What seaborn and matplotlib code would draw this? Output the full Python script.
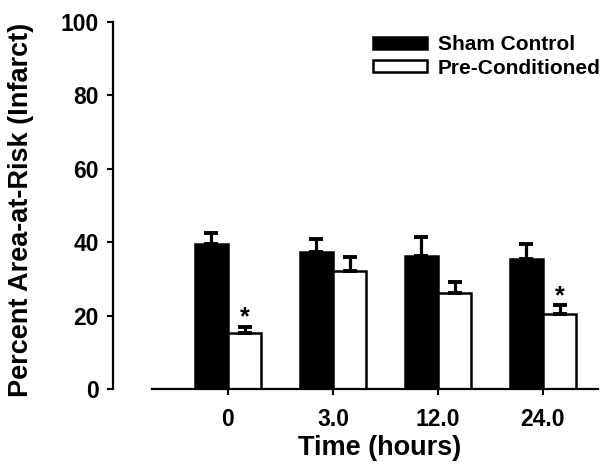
import numpy as np
import pandas as pd
import matplotlib
matplotlib.use("Agg")
import matplotlib.pyplot as plt
from matplotlib.patches import Patch
import seaborn as sns

# values
times = ["0", "3.0", "12.0", "24.0"]
groups = ["Sham Control", "Pre-Conditioned"]
sham_mean = [39.4, 37.2, 36.3, 35.3]
sham_err = [3.2, 3.8, 5.0, 4.2]
pre_mean = [15.2, 32.2, 26.2, 20.4]
pre_err = [1.8, 3.8, 2.9, 2.5]
pre_signif = [True, False, False, True]

df = pd.DataFrame({
    "time": times * 2,
    "group": [groups[0]] * len(times) + [groups[1]] * len(times),
    "value": sham_mean + pre_mean,
})

sns.set_style("ticks")
plt.rcParams["font.family"] = ["Liberation Sans", "DejaVu Sans"]
plt.rcParams["font.weight"] = "bold"
for k in ["text.color", "axes.labelcolor", "xtick.color", "ytick.color", "axes.edgecolor"]:
    plt.rcParams[k] = "black"

fig = plt.figure(figsize=(6.1, 4.66), dpi=100)
ax = fig.add_axes([113 / 610, 1 - 389 / 466, (598 - 113) / 610, (389 - 22) / 466])

sns.barplot(data=df, x="time", y="value", hue="group", order=times, hue_order=groups,
            palette=["black", "white"], width=0.63, errorbar=None, saturation=1,
            edgecolor="black", linewidth=1.8, legend=False, ax=ax)

# one-sided (upward) error bars
for cont, errs in zip(ax.containers[:2], [sham_err, pre_err]):
    xs = [b.get_x() + b.get_width() / 2 for b in cont]
    ys = [b.get_height() for b in cont]
    ax.errorbar(xs, ys, yerr=[np.zeros(len(errs)), errs], fmt="none", ecolor="black",
                elinewidth=2.3, capsize=5, capthick=2.8, zorder=1)

# significance stars
for b, e, s in zip(ax.containers[1], pre_err, pre_signif):
    if s:
        ax.text(b.get_x() + b.get_width() / 2, b.get_height() + e + 2.4, "*",
                ha="center", va="center", fontsize=18, fontweight="bold")

ax.set_ylim(0, 100)
ax.set_yticks([0, 20, 40, 60, 80, 100])
ax.set_xlim(-1.095, 3.524)
sns.despine(ax=ax)
ax.spines["bottom"].set_bounds(-0.724, 3.524)
for sp in ["left", "bottom"]:
    ax.spines[sp].set_linewidth(1.6)
ax.tick_params(axis="both", width=1.5, length=4, labelsize=16.5)
ax.tick_params(axis="x", pad=10)
ax.tick_params(axis="y", pad=6)

ax.set_xlabel("Time (hours)", fontsize=19.5, fontweight="bold")
ax.set_ylabel("Percent Area-at-Risk (Infarct)", fontsize=19.5, fontweight="bold")
ax.xaxis.set_label_coords(0.55, -0.124)
ax.yaxis.set_label_coords(-0.163, 0.488)

handles = [Patch(facecolor="black", edgecolor="black", linewidth=1.8),
           Patch(facecolor="white", edgecolor="black", linewidth=1.8)]
ax.legend(handles, groups, loc="upper left", bbox_to_anchor=(373 / 610, 1 - 35 / 466),
          bbox_transform=fig.transFigure, frameon=False, borderpad=0, borderaxespad=0,
          prop={"size": 15, "weight": "bold"}, handlelength=2.6, handleheight=0.5,
          handletextpad=0.5, labelspacing=0.22)

fig.savefig("out.png", dpi=100)
